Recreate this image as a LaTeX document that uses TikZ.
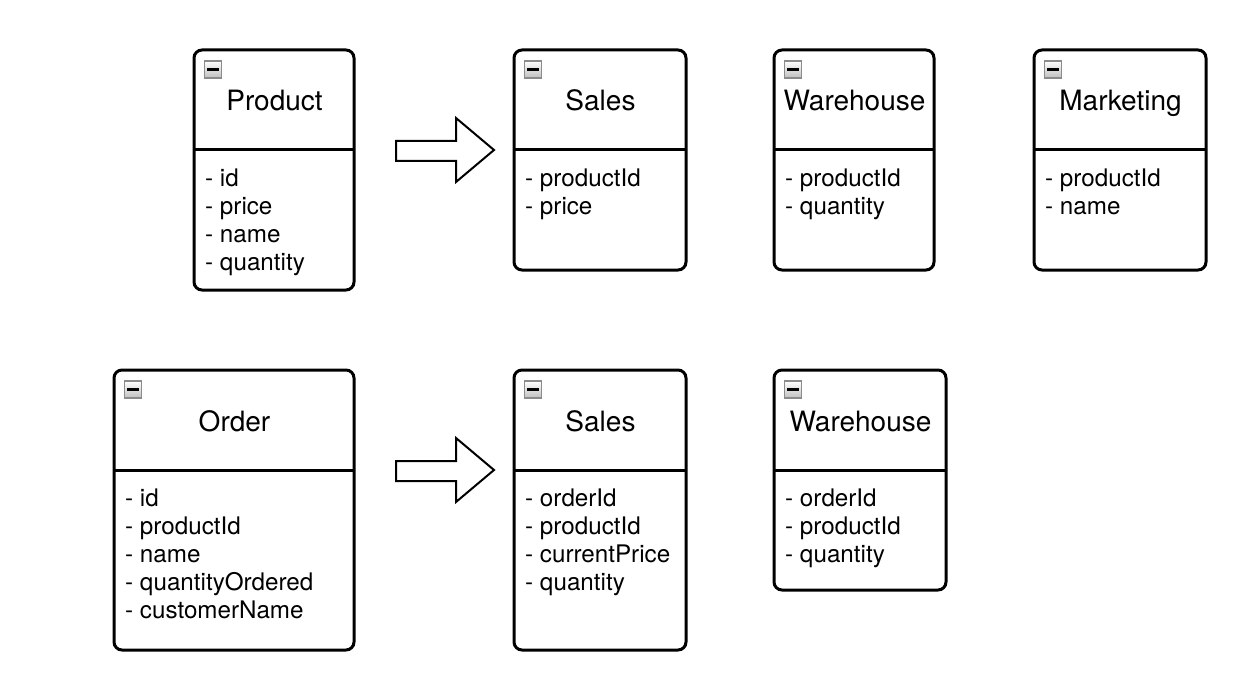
\documentclass[tikz,border=0pt]{standalone}
\usepackage{fontspec}
\setmainfont{TeX Gyre Heros}
\tikzset{
  classbox/.style={draw, line width=3pt, rounded corners=8pt, inner sep=0pt, outer sep=0pt, fill=white},
  divider/.style={line width=3pt},
  titletext/.style={font=\fontsize{28}{32}\selectfont, anchor=base, inner sep=0pt},
  attrtext/.style={font=\fontsize{24.2}{28}\selectfont, anchor=base west, inner sep=0pt},
  collapseicon/.style={draw=gray!90, line width=1.2pt, top color=white, bottom color=gray!50,
    minimum size=17pt, inner sep=0pt,
    path picture={\draw[line width=2.6pt, black]
      ([xshift=2.5pt]path picture bounding box.west) -- ([xshift=-2.5pt]path picture bounding box.east);}},
  blockarrow/.style={draw, line width=2pt, fill=white, line join=miter}
}
\newcommand\umlclass[7]{%
  \node[classbox, minimum width={(#4-#2)*1pt}, minimum height={(#5-#3)*1pt}] (#1) at ({(#2+#4)/2},{(#3+#5)/2}) {};
  \draw[divider] (#2,#3+100) -- (#4,#3+100);
  \node[collapseicon] (#1-icon) at (#2+19,#3+19.5) {};
  \node[titletext] (#1-title) at ({(#2+#4)/2+0.5},#3+61) {#6};
  \foreach \a [count=\i from 0] in {#7} {
    \node[attrtext] (#1-a\i) at (#2+11,#3+136+28*\i) {\a};
  }
}
\begin{document}
\begin{tikzpicture}[x=1pt,y=-1pt]
  \useasboundingbox (0,0) rectangle (1256,698);
  \umlclass{product}{194}{50}{354}{290}{Product}{- id,- price,- name,- quantity}
  \umlclass{sales1}{514}{50}{686}{270}{Sales}{- productId,- price}
  \umlclass{warehouse1}{774}{50}{934}{270}{Warehouse}{- productId,- quantity}
  \umlclass{marketing}{1034}{50}{1206}{270}{Marketing}{- productId,- name}
  \umlclass{order}{114}{370}{354}{650}{Order}{- id,- productId,- name,- quantityOrdered,- customerName}
  \umlclass{sales2}{514}{370}{686}{650}{Sales}{- orderId,- productId,- currentPrice,- quantity}
  \umlclass{warehouse2}{774}{370}{946}{590}{Warehouse}{- orderId,- productId,- quantity}
  \draw[blockarrow] (396,141) -- (456,141) -- (456,118) -- (494,150) -- (456,182) -- (456,161) -- (396,161) -- cycle;
  \draw[blockarrow] (396,461) -- (456,461) -- (456,438) -- (494,470) -- (456,502) -- (456,481) -- (396,481) -- cycle;
\end{tikzpicture}
\end{document}
